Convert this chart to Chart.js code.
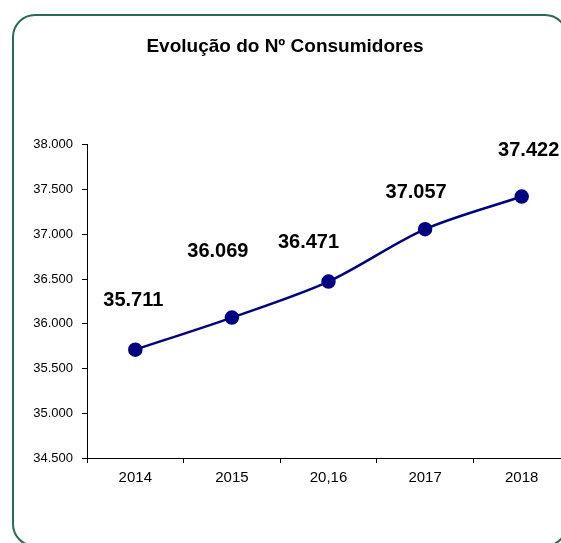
<!DOCTYPE html>
<html>
<head>
<meta charset="utf-8">
<script src="https://cdn.jsdelivr.net/npm/chart.js@4/dist/chart.umd.min.js"></script>
<style>
  html, body { margin: 0; padding: 0; background: #fff; overflow: hidden; }
  #wrap { position: relative; width: 561px; height: 543px; overflow: hidden; }
  #frame {
    position: absolute; left: 12px; top: 14px; width: 556px; height: 533px;
    border: 2px solid #2b6b50; border-radius: 23px; box-sizing: border-box;
  }
  #box { position: absolute; left: 0; top: 0; width: 580px; height: 543px; }
</style>
</head>
<body>
<div id="wrap">
  <div id="frame"></div>
  <div id="box"><canvas id="myChart" width="580" height="543"></canvas></div>
</div>
<script>
// data for the chart
var years = ['2014', '2015', '20,16', '2017', '2018'];
var consumers = [35711, 36069, 36471, 37057, 37422];
var yTicks = [34500, 35000, 35500, 36000, 36500, 37000, 37500, 38000];

// where each value label sits, relative to its point (dx, dy)
var labelOffsets = [[-2, -49], [-14, -66], [-20, -39], [-9, -37], [7, -46]];

function fmt(v) {
    return v.toLocaleString('de-DE');
}

var valueLabels = {
    id: 'valueLabels',
    afterDatasetsDraw: function(chart) {
        var ctx = chart.ctx;
        var meta = chart.getDatasetMeta(0);
        ctx.save();
        ctx.font = 'bold 20px "Liberation Sans", Arial, sans-serif';
        ctx.fillStyle = '#000';
        ctx.textAlign = 'center';
        ctx.textBaseline = 'middle';
        meta.data.forEach(function(pt, i) {
            var off = labelOffsets[i];
            ctx.fillText(fmt(consumers[i]), pt.x + off[0], pt.y + off[1]);
        });
        ctx.restore();
    }
};

window.onload = () => {
    var ctx = document.getElementById('myChart').getContext('2d');
    var myChart = new Chart(ctx, {
        type: 'line',
        data: {
            labels: years,
            datasets: [{
                data: consumers,
                borderColor: '#000080',
                backgroundColor: '#000080',
                borderWidth: 2.5,
                pointRadius: 6,
                pointBackgroundColor: '#000080',
                pointBorderColor: '#000080',
                tension: 0.3,
                fill: false
            }]
        },
        options: {
            responsive: false,
            animation: false,
            layout: { padding: { top: 0, right: 10, bottom: 0, left: 0 } },
            plugins: {
                legend: { display: false },
                tooltip: { enabled: false },
                title: {
                    display: true,
                    text: 'Evolução do Nº Consumidores',
                    color: '#000',
                    font: { family: '"Liberation Sans", Arial, sans-serif', size: 19, weight: 'bold' },
                    padding: { top: 35, bottom: 87 }
                }
            },
            scales: {
                x: {
                    offset: true,
                    grid: { display: true, drawOnChartArea: false, offset: true, tickLength: 5, color: '#000' },
                    border: { color: '#000', width: 1 },
                    ticks: {
                        color: '#000',
                        padding: 6,
                        font: { family: '"Liberation Sans", Arial, sans-serif', size: 15 }
                    },
                    afterFit: function(s) { s.height = 85; }
                },
                y: {
                    min: 34500,
                    max: 38000,
                    afterBuildTicks: function(s) {
                        s.ticks = yTicks.map(function(v) { return { value: v }; });
                    },
                    grid: { display: true, drawOnChartArea: false, tickLength: 5, color: '#000' },
                    border: { color: '#000', width: 1 },
                    ticks: {
                        color: '#000',
                        padding: 9,
                        font: { family: '"Liberation Sans", Arial, sans-serif', size: 13 },
                        callback: function(v) { return fmt(v); }
                    },
                    afterFit: function(s) { s.width = 87; }
                }
            }
        },
        plugins: [valueLabels]
    });
};
</script>
</body>
</html>
